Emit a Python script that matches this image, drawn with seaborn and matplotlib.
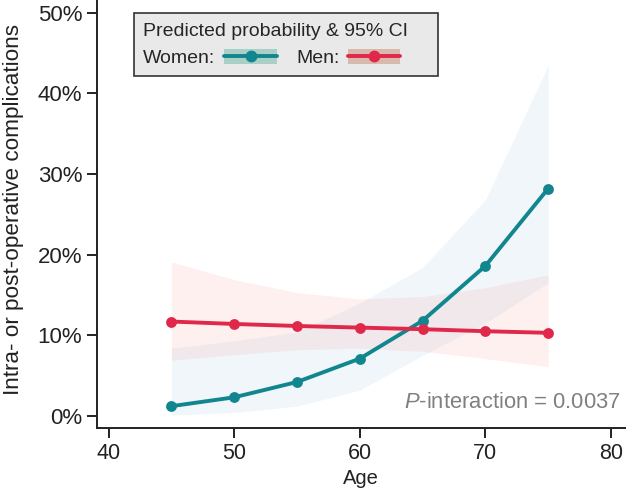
import matplotlib
matplotlib.use("Agg")
import matplotlib.pyplot as plt
import seaborn as sns
import pandas as pd
from matplotlib.lines import Line2D
from matplotlib.patches import Patch, Rectangle
from matplotlib.legend_handler import HandlerTuple
from matplotlib.ticker import FuncFormatter

# predicted probability (%) by age, with 95% CI
ages = [45, 50, 55, 60, 65, 70, 75]
women = [1.2, 2.3, 4.2, 7.1, 11.8, 18.6, 28.2]
women_lo = [0.1, 0.4, 1.2, 3.2, 7.5, 11.5, 16.5]
women_hi = [8.4, 9.3, 10.4, 14.0, 18.4, 26.8, 43.5]
men = [11.7, 11.4, 11.15, 10.95, 10.75, 10.5, 10.3]
men_lo = [6.9, 7.6, 8.2, 8.4, 8.0, 7.1, 6.1]
men_hi = [19.1, 16.9, 15.3, 14.5, 14.8, 15.9, 17.5]

teal = "#12868f"
red = "#e0284a"

sns.set_style("ticks")
plt.rcParams["font.family"] = ["Liberation Sans", "DejaVu Sans"]
plt.rcParams["mathtext.fontset"] = "custom"
plt.rcParams["mathtext.rm"] = "Liberation Sans"
plt.rcParams["mathtext.it"] = "Liberation Sans:italic"

df = pd.DataFrame({
    "Age": ages * 2,
    "prob": women + men,
    "sex": ["Women"] * len(ages) + ["Men"] * len(ages),
})

fig = plt.figure(figsize=(6.26, 4.93), dpi=100)
ax = fig.add_axes([0.1545, 0.132, 0.8455, 0.868])

# confidence bands
ax.fill_between(ages, women_lo, women_hi, color="#5aa6c8", alpha=0.09, lw=0)
ax.fill_between(ages, men_lo, men_hi, color="#f08a7a", alpha=0.12, lw=0)

sns.lineplot(data=df, x="Age", y="prob", hue="sex", palette={"Women": teal, "Men": red},
             marker="o", markersize=7.8, markeredgewidth=0, linewidth=2.8, ax=ax, legend=False)

ax.set_xlim(39.05, 81.2)
ax.set_ylim(-1.5, 51.6)
ax.set_xticks([40, 50, 60, 70, 80])
ax.set_yticks([0, 10, 20, 30, 40, 50])
ax.yaxis.set_major_formatter(FuncFormatter(lambda v, p: f"{v:.0f}%"))
ax.tick_params(length=7, width=1.4, colors="#222222", labelcolor="#222222")
ax.tick_params(axis="x", labelsize=15.5)
ax.tick_params(axis="y", labelsize=16)
ax.set_xlabel("Age", fontsize=14.5, color="#222222")
ax.set_ylabel("Intra- or post-operative complications", fontsize=16.2, color="#222222")
ax.yaxis.set_label_coords(-0.138, 0.51)
for s in ["left", "bottom"]:
    ax.spines[s].set_linewidth(1.4)
    ax.spines[s].set_color("#222222")
sns.despine(ax=ax)

ax.text(80.8, 1.6, "$P$-interaction = 0.0037", ha="right", va="center",
        fontsize=15.8, color="#808080")

# legend box
ax.add_patch(Rectangle((0.0705, 0.822), 0.5745, 0.148, transform=ax.transAxes,
                       facecolor="#e9e9ea", edgecolor="#333333", lw=1.2, zorder=4))

h_w = (Patch(facecolor="#a9cfc6", edgecolor="none"),
       Line2D([], [], color=teal, lw=2.8, marker="o", markersize=7.5))
h_m = (Patch(facecolor="#d9b8ae", edgecolor="none"),
       Line2D([], [], color=red, lw=2.8, marker="o", markersize=7.5))
leg = ax.legend([h_w, h_m], ["Women:", "Men:"], handler_map={tuple: HandlerTuple(ndivide=1)},
                title="Predicted probability & 95% CI", ncol=2, markerfirst=False,
                loc="upper left", bbox_to_anchor=(0.088, 0.947), borderaxespad=0,
                fontsize=14, title_fontsize=14, alignment="left", frameon=False,
                handlelength=2.68, handleheight=0.78, columnspacing=1.0, handletextpad=0.46,
                borderpad=0, labelspacing=0.5)
leg.set_zorder(5)

fig.savefig("out.png", dpi=100)
